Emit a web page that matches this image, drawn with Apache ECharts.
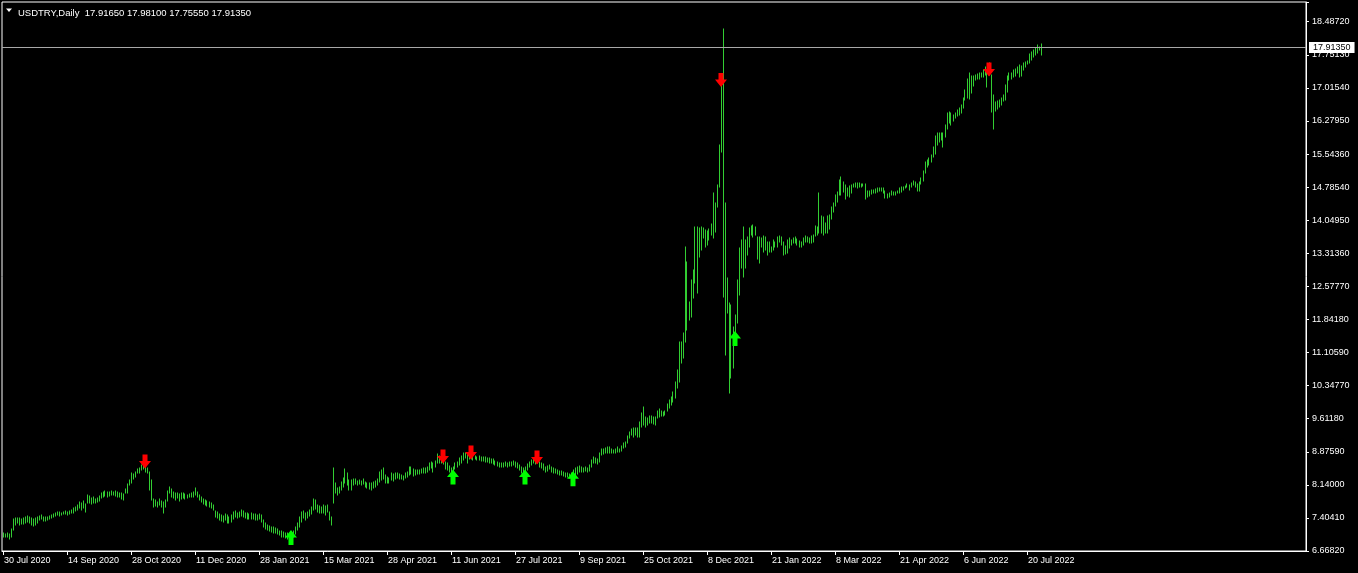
<!DOCTYPE html>
<html><head><meta charset="utf-8">
<script src="https://cdn.jsdelivr.net/npm/echarts@6/dist/echarts.min.js"></script>
<style>html,body{margin:0;padding:0;background:#000;}#c{width:1358px;height:573px;}</style>
</head><body><div id="c"></div>
<script>
const symbolName = 'USDTRY,Daily';
const lastOHLC = ['17.91650','17.98100','17.75550','17.91350'];
const lastPrice = 17.9135;
const xTickLabels = ['30 Jul 2020','14 Sep 2020','28 Oct 2020','11 Dec 2020','28 Jan 2021','15 Mar 2021','28 Apr 2021','11 Jun 2021','27 Jul 2021','9 Sep 2021','25 Oct 2021','8 Dec 2021','21 Jan 2022','8 Mar 2022','21 Apr 2022','6 Jun 2022','20 Jul 2022'];
const yTickLabels = ['6.66820','7.40410','8.14000','8.87590','9.61180','10.34770','11.10590','11.84180','12.57770','13.31360','14.04950','14.78540','15.54360','16.27950','17.01540','17.75130','18.48720'];

const highs = [
7.077,7.048,7.063,7.040,7.152,7.375,7.398,7.398,7.398,7.375,
7.398,7.420,7.450,7.435,7.398,7.375,7.398,7.420,7.450,7.472,
7.435,7.420,7.435,7.450,7.472,7.494,7.524,7.547,7.547,7.524,
7.547,7.569,7.547,7.569,7.584,7.621,7.658,7.695,7.770,7.733,
7.792,7.718,7.919,7.896,7.844,7.867,7.822,7.844,7.896,7.956,
7.993,8.008,7.993,7.993,8.008,7.993,8.008,7.993,7.971,7.956,
7.941,8.045,8.164,8.254,8.403,8.380,8.440,8.492,8.514,8.589,
8.589,8.566,8.514,8.440,8.254,7.822,7.807,7.770,7.822,7.792,
7.770,7.807,8.016,8.105,8.045,7.993,7.956,7.971,7.941,7.971,
7.956,7.941,7.919,7.941,7.956,7.993,8.068,7.993,7.919,7.882,
7.822,7.807,7.792,7.770,7.748,7.695,7.569,7.547,7.494,7.472,
7.450,7.494,7.472,7.435,7.472,7.547,7.569,7.524,7.547,7.584,
7.569,7.524,7.509,7.494,7.509,7.494,7.494,7.472,7.494,7.472,
7.361,7.286,7.249,7.227,7.212,7.197,7.174,7.152,7.122,7.122,
7.100,7.078,7.063,7.048,7.078,7.122,7.197,7.301,7.435,7.547,
7.569,7.524,7.547,7.584,7.658,7.822,7.807,7.695,7.673,7.658,
7.695,7.673,7.695,7.547,7.435,8.514,8.179,8.068,8.105,8.216,
8.291,8.492,8.403,8.254,8.254,8.269,8.269,8.239,8.254,8.239,
8.269,8.217,8.194,8.180,8.180,8.209,8.239,8.269,8.440,8.477,
8.514,8.366,8.314,8.291,8.403,8.388,8.403,8.418,8.388,8.366,
8.343,8.418,8.440,8.552,8.552,8.492,8.477,8.477,8.477,8.492,
8.514,8.529,8.552,8.626,8.663,8.641,8.685,8.834,8.790,8.775,
8.737,8.663,8.626,8.566,8.514,8.552,8.641,8.663,8.737,8.790,
8.849,8.864,8.812,8.849,8.834,8.790,8.790,8.775,8.790,8.775,
8.760,8.760,8.737,8.737,8.715,8.715,8.685,8.663,8.641,8.626,
8.641,8.656,8.641,8.663,8.656,8.670,8.656,8.626,8.589,8.552,
8.514,8.552,8.611,8.663,8.700,8.715,8.700,8.715,8.663,8.641,
8.611,8.552,8.566,8.589,8.552,8.514,8.492,8.477,8.462,8.455,
8.440,8.418,8.403,8.388,8.418,8.477,8.514,8.536,8.566,8.536,
8.522,8.536,8.514,8.589,8.700,8.775,8.737,8.715,8.849,8.946,
8.938,8.961,8.983,8.998,8.946,8.924,8.938,8.983,8.938,9.013,
9.072,9.110,9.236,9.333,9.400,9.407,9.407,9.407,9.556,9.742,
9.891,9.668,9.631,9.683,9.683,9.668,9.653,9.802,9.832,9.802,
9.780,9.802,9.950,10.050,10.115,10.226,10.450,10.710,11.343,11.343,
11.529,13.464,13.129,12.236,12.720,12.943,13.911,13.911,13.874,13.911,
13.874,13.836,13.822,13.851,13.970,14.655,14.447,14.841,15.734,17.074,
18.317,14.432,12.757,12.199,12.162,11.678,11.938,12.720,13.427,13.613,
13.911,13.613,13.688,13.874,13.926,13.948,13.911,13.688,13.688,13.650,
13.702,13.673,13.576,13.576,13.464,13.613,13.576,13.688,13.702,13.687,
13.576,13.479,13.613,13.650,13.613,13.650,13.687,13.628,13.591,13.576,
13.650,13.702,13.673,13.650,13.702,13.725,13.926,13.896,14.655,14.149,
14.119,13.985,14.149,14.171,14.343,14.432,14.618,14.692,14.953,15.012,
14.916,14.841,14.767,14.819,14.841,14.864,14.879,14.879,14.879,14.864,
14.864,14.864,14.715,14.715,14.730,14.730,14.745,14.767,14.767,14.767,
14.767,14.707,14.633,14.670,14.707,14.692,14.692,14.715,14.767,14.789,
14.804,14.819,14.864,14.841,14.893,14.938,14.916,14.864,14.916,14.990,
15.161,15.362,15.400,15.437,15.511,15.697,15.935,16.010,16.010,15.995,
15.995,16.181,16.442,16.479,16.442,16.405,16.457,16.516,16.553,16.628,
16.777,16.963,17.201,17.350,17.275,17.275,17.298,17.313,17.350,17.350,
17.409,17.484,17.409,17.558,17.298,16.851,16.702,16.724,16.739,16.777,
16.851,17.074,17.275,17.350,17.350,17.409,17.424,17.469,17.521,17.499,
17.573,17.595,17.618,17.767,17.819,17.856,17.893,17.968,17.930,17.981
];

const lows = [
6.988,6.973,6.988,6.929,6.973,7.137,7.249,7.286,7.249,7.271,
7.271,7.301,7.323,7.286,7.249,7.227,7.249,7.301,7.361,7.375,
7.346,7.346,7.361,7.375,7.398,7.420,7.450,7.472,7.450,7.472,
7.494,7.494,7.472,7.494,7.509,7.524,7.569,7.584,7.621,7.584,
7.621,7.547,7.733,7.748,7.718,7.748,7.733,7.770,7.792,7.844,
7.882,7.896,7.882,7.896,7.919,7.919,7.896,7.882,7.867,7.822,
7.807,7.956,7.971,8.142,8.194,8.269,8.328,8.403,8.418,8.477,
8.492,8.440,8.403,8.030,7.807,7.658,7.673,7.658,7.695,7.658,
7.524,7.658,7.792,7.956,7.882,7.844,7.807,7.844,7.792,7.822,
7.844,7.822,7.844,7.867,7.867,7.882,7.919,7.867,7.807,7.770,
7.718,7.695,7.673,7.658,7.621,7.584,7.420,7.398,7.361,7.346,
7.323,7.361,7.301,7.286,7.323,7.375,7.420,7.398,7.420,7.450,
7.435,7.398,7.375,7.375,7.390,7.375,7.361,7.361,7.375,7.323,
7.212,7.152,7.137,7.122,7.100,7.078,7.063,7.048,7.026,6.988,
6.973,6.951,6.929,6.914,6.929,6.973,7.048,7.137,7.197,7.323,
7.398,7.361,7.398,7.450,7.494,7.584,7.599,7.547,7.524,7.509,
7.524,7.472,7.547,7.361,7.249,7.733,7.956,7.919,7.956,8.030,
8.105,8.179,8.142,8.030,8.030,8.142,8.165,8.142,8.165,8.142,
8.165,8.105,8.068,8.046,8.031,8.068,8.105,8.142,8.217,8.254,
8.269,8.180,8.180,8.194,8.254,8.239,8.269,8.291,8.269,8.269,
8.254,8.291,8.314,8.366,8.388,8.343,8.366,8.388,8.388,8.403,
8.403,8.418,8.440,8.477,8.514,8.440,8.537,8.626,8.641,8.626,
8.611,8.492,8.477,8.440,8.366,8.418,8.492,8.552,8.589,8.641,
8.700,8.737,8.626,8.715,8.715,8.700,8.715,8.700,8.700,8.685,
8.685,8.663,8.663,8.641,8.641,8.611,8.589,8.566,8.552,8.537,
8.552,8.566,8.552,8.566,8.566,8.589,8.552,8.514,8.477,8.418,
8.403,8.440,8.477,8.537,8.589,8.626,8.611,8.626,8.552,8.514,
8.477,8.440,8.462,8.492,8.440,8.418,8.403,8.388,8.373,8.366,
8.343,8.328,8.314,8.291,8.314,8.343,8.365,8.388,8.440,8.440,
8.440,8.455,8.440,8.462,8.536,8.641,8.626,8.611,8.663,8.812,
8.834,8.849,8.864,8.864,8.849,8.849,8.864,8.886,8.886,8.909,
8.961,8.998,9.087,9.184,9.258,9.221,9.258,9.221,9.221,9.445,
9.482,9.445,9.482,9.519,9.534,9.504,9.482,9.631,9.668,9.683,
9.683,9.705,9.800,9.870,9.928,10.003,10.077,10.301,10.450,10.859,
10.971,11.343,11.603,11.827,11.901,12.310,12.645,12.422,13.241,13.390,
13.650,13.464,13.501,13.613,13.725,13.650,13.799,14.358,14.804,15.586,
12.347,11.045,11.975,10.189,10.524,10.747,11.343,11.752,12.385,12.980,
12.794,12.980,13.278,13.464,13.725,13.688,13.725,13.181,13.107,13.464,
13.353,13.390,13.278,13.353,13.353,13.390,13.464,13.464,13.576,13.501,
13.278,13.300,13.315,13.427,13.501,13.539,13.539,13.501,13.464,13.449,
13.501,13.576,13.576,13.553,13.539,13.576,13.702,13.725,13.762,13.762,
13.725,13.777,13.762,13.851,14.075,14.246,14.372,14.469,14.618,14.618,
14.692,14.529,14.596,14.581,14.670,14.789,14.789,14.767,14.804,14.804,
14.819,14.529,14.581,14.596,14.640,14.655,14.670,14.692,14.707,14.715,
14.670,14.558,14.558,14.581,14.618,14.618,14.618,14.655,14.670,14.692,
14.730,14.767,14.789,14.730,14.789,14.841,14.804,14.715,14.715,14.864,
14.938,15.102,15.251,15.288,15.362,15.459,15.534,15.735,15.809,15.846,
15.697,15.921,16.084,16.233,16.181,16.278,16.330,16.382,16.405,16.442,
16.553,16.739,16.777,16.754,16.903,17.052,17.186,17.201,17.201,17.246,
17.261,17.298,17.022,17.298,16.479,16.084,16.501,16.531,16.576,16.628,
16.724,16.739,16.925,17.186,17.201,17.261,17.275,17.335,17.261,17.275,
17.409,17.469,17.543,17.558,17.633,17.707,17.744,17.796,17.856,17.7555
];

// signal arrows: [bar index, price at arrow centre]
const downArrows = [[71, 8.667], [220, 8.778], [234, 8.868], [267, 8.756], [359, 17.186], [493, 17.420]];
const upArrows = [[144, 6.970], [225, 8.320], [261, 8.320], [285, 8.283], [366, 11.413]];

const totalSlots = 652;
const tickEvery = 32;
const yMin = 6.6682, yStep = 0.73869, yMax = 18.928;

const categories = Array.from({length: totalSlots}, (_, i) => String(i));
const barData = highs.map((h, i) => [i, lows[i], h]);
const showTick = (i) => i % tickEvery === 0 && (i / tickEvery) < xTickLabels.length;

const FONT = 'Liberation Sans';
const chart = echarts.init(document.getElementById('c'), null, {renderer: 'canvas'});
chart.setOption({
  backgroundColor: '#000',
  animation: false,
  textStyle: {fontFamily: FONT},
  title: {
    text: symbolName + '  ' + lastOHLC.join(' '),
    left: 13, top: 3,
    textStyle: {color: '#fff', fontSize: 9.5, fontWeight: 'normal', fontFamily: FONT}
  },
  graphic: [{type: 'polygon', shape: {points: [[6, 8.5], [12, 8.5], [9, 12]]}, style: {fill: '#fff'}, silent: true}],
  grid: {left: 2, right: 52, top: 2, bottom: 22, show: true, borderColor: '#fff', borderWidth: 1, backgroundColor: 'transparent'},
  xAxis: {
    type: 'category', data: categories, boundaryGap: true,
    axisLine: {show: true, lineStyle: {color: '#fff', width: 1}},
    axisTick: {show: true, alignWithLabel: true, interval: showTick, length: 4, lineStyle: {color: '#fff'}},
    axisLabel: {
      interval: showTick, color: '#fff', fontSize: 9, fontFamily: FONT, align: 'left', margin: 5,
      padding: [0, 0, 0, 1],
      formatter: (v, i) => xTickLabels[Math.round(Number(v) / tickEvery)] || ''
    },
    splitLine: {show: false}
  },
  yAxis: {
    type: 'value', position: 'right', min: yMin, max: yMax, interval: yStep, scale: true,
    axisLine: {show: true, lineStyle: {color: '#fff', width: 1}},
    axisTick: {show: true, length: 3, lineStyle: {color: '#fff'}},
    axisLabel: {
      color: '#fff', fontSize: 9, fontFamily: FONT, margin: 6,
      formatter: (v) => {
        const k = Math.round((v - yMin) / yStep);
        if (Math.abs(v - (yMin + k * yStep)) > 0.01) return '';
        return yTickLabels[k] || '';
      }
    },
    splitLine: {show: false}
  },
  series: [
    {
      type: 'custom', name: 'bars', data: barData, encode: {x: 0, y: [1, 2]}, clip: true, z: 2,
      renderItem: (params, api) => {
        const lo = api.coord([api.value(0), api.value(1)]);
        const hi = api.coord([api.value(0), api.value(2)]);
        const x = Math.floor(lo[0]) + 0.5;
        return {type: 'line', silent: true,
          shape: {x1: x, y1: Math.round(lo[1]) + 0.5, x2: x, y2: Math.round(hi[1]) - 0.5},
          style: {stroke: '#32cd32', lineWidth: 1}};
      }
    },
    {
      type: 'scatter', name: 'down', data: downArrows, z: 4, silent: true,
      symbol: 'path://M3.5,0 L8.5,0 L8.5,6 L12,6 L6,13 L0,6 L3.5,6 Z', symbolSize: [12, 14],
      itemStyle: {color: '#ff0000', opacity: 1},
      markLine: {
        silent: true, symbol: ['none', 'none'], animation: false, z: 3,
        lineStyle: {color: '#a8a8a8', width: 1, type: 'solid'},
        label: {show: true, position: 'end', formatter: lastOHLC[3], color: '#000', backgroundColor: '#fff',
          fontSize: 9, fontFamily: FONT, padding: [1, 4, 1, 4], distance: 3},
        data: [{yAxis: lastPrice}]
      }
    },
    {
      type: 'scatter', name: 'up', data: upArrows, z: 4, silent: true,
      symbol: 'path://M6,0 L12,7 L8.5,7 L8.5,14 L3.5,14 L3.5,7 L0,7 Z', symbolSize: [12, 15],
      itemStyle: {color: '#00ff00', opacity: 1}
    }
  ]
});
</script>
</body></html>
